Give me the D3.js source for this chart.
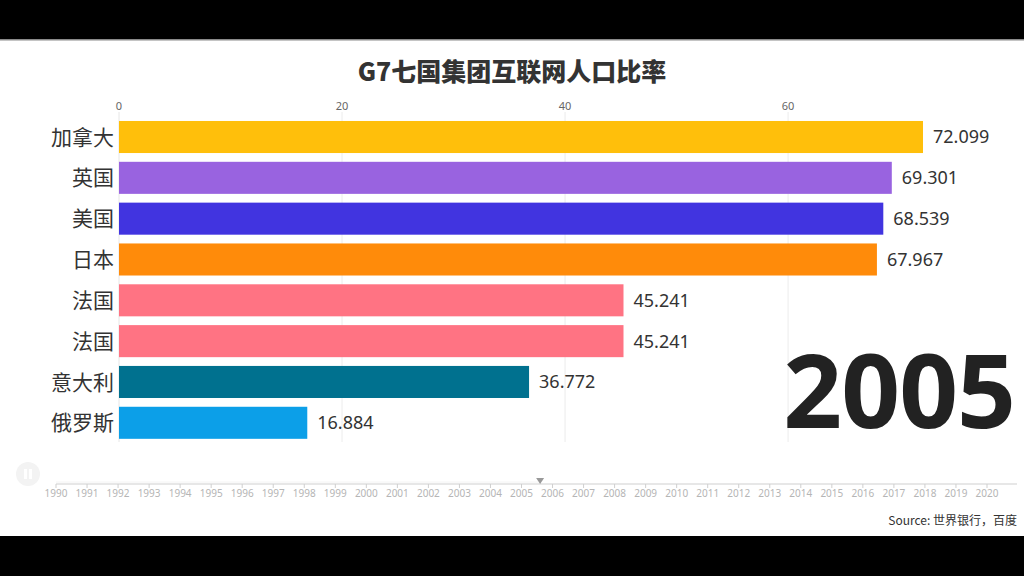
<!DOCTYPE html>
<html lang="zh">
<head>
<meta charset="UTF-8">
<title>G7七国集团互联网人口比率</title>
<script src="https://cdn.jsdelivr.net/npm/d3@7"></script>
<style>
    html, body { margin: 0; padding: 0; background: #000; }
    svg { display: block; }
    .cjk { font-family: "Noto Sans CJK SC", "Noto Sans", sans-serif; }
    .axis text { font: 11px "Noto Sans", sans-serif; fill: #666; }
    .timeline text { font: 10px "Noto Sans", sans-serif; fill: #b5b5b5; }
</style>
</head>
<body>
<svg id="chart" width="1024" height="576"></svg>
<script>
    // data for year 2005
    var countries = ["加拿大", "英国", "美国", "日本", "法国", "法国", "意大利", "俄罗斯"];
    var values = [72.099, 69.301, 68.539, 67.967, 45.241, 45.241, 36.772, 16.884];
    var barColors = ["#ffbf0b", "#9963e0", "#4134e0", "#ff8b0a", "#ff7383", "#ff7383", "#00718f", "#0c9fe8"];
    var xTicks = [0, 20, 40, 60];
    var years = ["1990", "1991", "1992", "1993", "1994", "1995", "1996", "1997", "1998", "1999",
        "2000", "2001", "2002", "2003", "2004", "2005", "2006", "2007", "2008", "2009",
        "2010", "2011", "2012", "2013", "2014", "2015", "2016", "2017", "2018", "2019", "2020"];
    var currentYear = "2005";
    var playhead = 2005.6;

    var svg = d3.select("#chart");

    // white canvas between black letterbox bars
    svg.append("rect").attr("x", 0).attr("y", 0).attr("width", 1024).attr("height", 576).attr("fill", "#000");
    svg.append("rect").attr("x", 0).attr("y", 39).attr("width", 1024).attr("height", 497).attr("fill", "#fff");
    svg.append("rect").attr("x", 0).attr("y", 39).attr("width", 1024).attr("height", 1.5).attr("fill", "#8a8a8a");

    var x = d3.scaleLinear().domain([0, 72.099]).range([119, 923]);
    var y = d3.scaleBand().domain(d3.range(countries.length)).range([116.9, 442.9])
        .paddingInner(0.215).paddingOuter(0.1);

    // title
    svg.append("text")
        .attr("class", "cjk")
        .attr("x", 512).attr("y", 81)
        .attr("text-anchor", "middle")
        .attr("font-size", 25).attr("font-weight", "900")
        .attr("fill", "#333")
        .text("G7七国集团互联网人口比率");

    // grid + top axis
    var ax = svg.append("g").attr("class", "axis");
    ax.selectAll("line.grid")
        .data(xTicks)
        .enter().append("line")
        .attr("class", "grid")
        .attr("x1", d => x(d)).attr("x2", d => x(d))
        .attr("y1", 112).attr("y2", 442)
        .attr("stroke", d => d === 0 ? "#e6e6e6" : "#ececec");
    ax.selectAll("text")
        .data(xTicks)
        .enter().append("text")
        .attr("x", d => x(d)).attr("y", 110)
        .attr("text-anchor", "middle")
        .text(d => d);

    // bars
    var bars = svg.append("g");
    bars.selectAll("rect")
        .data(values)
        .enter().append("rect")
        .attr("x", x(0))
        .attr("y", (d, i) => y(i))
        .attr("width", d => x(d) - x(0))
        .attr("height", y.bandwidth())
        .attr("fill", (d, i) => barColors[i]);

    bars.selectAll("text.name")
        .data(countries)
        .enter().append("text")
        .attr("class", "name cjk")
        .attr("x", 114)
        .attr("y", (d, i) => y(i) + y.bandwidth() / 2)
        .attr("dy", "0.36em")
        .attr("text-anchor", "end")
        .attr("font-size", 21)
        .attr("fill", "#333")
        .text(d => d);

    bars.selectAll("text.val")
        .data(values)
        .enter().append("text")
        .attr("class", "val")
        .attr("x", d => x(d) + 10)
        .attr("y", (d, i) => y(i) + y.bandwidth() / 2)
        .attr("dy", "0.36em")
        .attr("font-family", "'Noto Sans', sans-serif")
        .attr("font-size", 18)
        .attr("fill", "#333")
        .text(d => d3.format(".3f")(d));

    // big year label
    svg.append("text")
        .attr("x", 1015).attr("y", 428)
        .attr("text-anchor", "end")
        .attr("font-family", "'Noto Sans', sans-serif")
        .attr("font-size", 103).attr("font-weight", "bold")
        .attr("letter-spacing", -1)
        .attr("fill", "#222")
        .text(currentYear);

    // timeline
    var t = d3.scaleLinear().domain([1990, 2020]).range([56, 987]);
    var tl = svg.append("g").attr("class", "timeline");
    tl.append("line")
        .attr("x1", 56).attr("x2", 1017).attr("y1", 484).attr("y2", 484)
        .attr("stroke", "#cfcfcf");
    tl.append("line")
        .attr("x1", 56).attr("x2", t(playhead)).attr("y1", 482).attr("y2", 482)
        .attr("stroke", "#f4f4f4");
    tl.selectAll("line.tick")
        .data(years)
        .enter().append("line")
        .attr("class", "tick")
        .attr("x1", d => t(+d)).attr("x2", d => t(+d))
        .attr("y1", 484).attr("y2", 488)
        .attr("stroke", "#cfcfcf");
    tl.selectAll("text")
        .data(years)
        .enter().append("text")
        .attr("x", d => t(+d)).attr("y", 497)
        .attr("text-anchor", "middle")
        .text(d => d);
    var px = t(playhead);
    tl.append("path")
        .attr("d", "M" + (px - 4) + ",478L" + (px + 4) + ",478L" + px + ",484Z")
        .attr("fill", "#999");

    // play/pause button
    var btn = svg.append("g").attr("transform", "translate(28,474)");
    btn.append("circle").attr("r", 12).attr("fill", "#f3f3f3");
    btn.append("rect").attr("x", -4).attr("y", -5).attr("width", 3).attr("height", 10).attr("fill", "#fff");
    btn.append("rect").attr("x", 1).attr("y", -5).attr("width", 3).attr("height", 10).attr("fill", "#fff");

    // source
    svg.append("text")
        .attr("class", "cjk")
        .attr("x", 1017).attr("y", 525)
        .attr("text-anchor", "end")
        .attr("font-size", 12)
        .attr("fill", "#333")
        .text("Source: 世界银行，百度");

    svg.append("rect").attr("x", 0).attr("y", 536).attr("width", 1024).attr("height", 40).attr("fill", "#000");
</script>
</body>
</html>
